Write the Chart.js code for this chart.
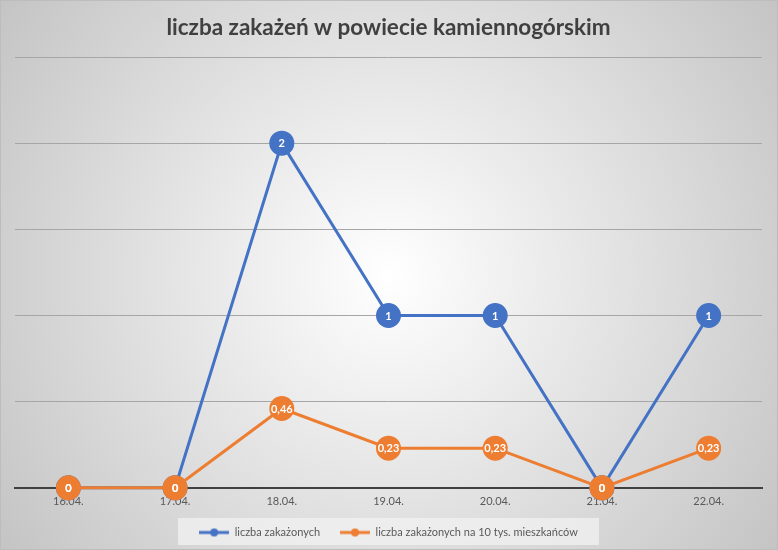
<!DOCTYPE html>
<html><head><meta charset="utf-8">
<script src="https://cdn.jsdelivr.net/npm/chart.js@4.4.1/dist/chart.umd.min.js"></script>
<style>html,body{margin:0;padding:0;background:#fff}#wrap{width:778px;height:550px;position:relative}</style>
</head><body><div id="wrap"><canvas id="c" width="778" height="550"></canvas></div>
<script>
const categories = ['16.04.','17.04.','18.04.','19.04.','20.04.','21.04.','22.04.'];
const cases = [0, 0, 2, 1, 1, 0, 1];
const casesPer10k = [0, 0, 0.46, 0.23, 0.23, 0, 0.23];
const caseLabels = ['0','0','2','1','1','0','1'];
const per10kLabels = ['0','0','0,46','0,23','0,23','0','0,23'];
const seriesNames = ['liczba zakażonych', 'liczba zakażonych na 10 tys. mieszkańców'];
const titleText = 'liczba zakażeń w powiecie kamiennogórskim';

const BLUE = '#4472C4', ORANGE = '#ED7D31';
const FONT = 'Lato, "Open Sans", sans-serif';

function legendIcon(color){
  const c = document.createElement('canvas');
  c.width = 30; c.height = 10;
  const x = c.getContext('2d');
  x.strokeStyle = color; x.lineWidth = 3;
  x.beginPath(); x.moveTo(0,5); x.lineTo(30,5); x.stroke();
  x.fillStyle = color; x.beginPath(); x.arc(15,5,4,0,Math.PI*2); x.fill();
  return c;
}

const bgPlugin = {
  id: 'bg',
  beforeDraw(chart){
    const {ctx, width, height} = chart;
    ctx.save();
    const g = ctx.createRadialGradient(width/2, height/2, 0, width/2, height/2, Math.sqrt(width*width+height*height)/2);
    g.addColorStop(0, '#ffffff');
    g.addColorStop(1, '#c4c4c4');
    ctx.fillStyle = g;
    ctx.fillRect(0,0,width,height);
    ctx.strokeStyle = '#bdbdbd'; ctx.lineWidth = 1;
    ctx.strokeRect(0.5,0.5,width-1,height-1);
    const L = chart.legend;
    if (L && L.legendHitBoxes && L.legendHitBoxes.length){
      ctx.fillStyle = 'rgba(242,242,242,0.75)';
      ctx.fillRect(178, 518, 421, 27);
    }
    ctx.restore();
  }
};

const labelPlugin = {
  id: 'dl',
  afterDatasetsDraw(chart){
    const ctx = chart.ctx;
    const lbls = [caseLabels, per10kLabels];
    ctx.save();
    ctx.fillStyle = '#ffffff';
    ctx.font = 'bold 11px ' + FONT;
    ctx.textAlign = 'center'; ctx.textBaseline = 'middle';
    chart.data.datasets.forEach((ds, i) => {
      const meta = chart.getDatasetMeta(i);
      meta.data.forEach((pt, j) => {
        ctx.fillText(lbls[i][j], pt.x, pt.y + 0.5);
      });
    });
    ctx.restore();
  }
};

new Chart(document.getElementById('c'), {
  type: 'line',
  data: {
    labels: categories,
    datasets: [
      {label: seriesNames[0], data: cases, borderColor: BLUE, backgroundColor: BLUE, borderWidth: 3,
       pointRadius: 11, pointHoverRadius: 11, pointBackgroundColor: BLUE, pointBorderColor: BLUE, tension: 0,
       pointStyle: 'circle', clip: false, order: 1},
      {label: seriesNames[1], data: casesPer10k, borderColor: ORANGE, backgroundColor: ORANGE, borderWidth: 3,
       pointRadius: 11, pointHoverRadius: 11, pointBackgroundColor: ORANGE, pointBorderColor: ORANGE, tension: 0,
       pointStyle: 'circle', clip: false, order: 0}
    ]
  },
  options: {
    responsive: false,
    animation: false,
    layout: {padding: {left: 15, right: 16, top: 0, bottom: 2}},
    plugins: {
      title: {display: true, text: titleText, color: '#404040',
        font: {family: FONT, size: 22.5, weight: 'bold'}, padding: {top: 14, bottom: 16}},
      legend: {
        position: 'bottom',
        labels: {
          color: '#595959', font: {family: FONT, size: 11},
          usePointStyle: true, pointStyleWidth: 30, boxHeight: 10, padding: 20,
          generateLabels(chart){
            return chart.data.datasets.map((ds, i) => ({
              text: ds.label, pointStyle: legendIcon(ds.borderColor),
              fillStyle: ds.borderColor, strokeStyle: ds.borderColor, lineWidth: 0,
              hidden: false, datasetIndex: i, fontColor: '#595959'
            }));
          }
        }
      },
      tooltip: {enabled: false}
    },
    scales: {
      x: {
        offset: true,
        grid: {display: false, drawTicks: false},
        border: {display: true, color: '#404040', width: 2},
        ticks: {color: '#595959', font: {family: FONT, size: 11}, padding: 7},
        afterFit(scale){ scale.height -= 8; }
      },
      y: {
        min: 0, max: 2.5,
        ticks: {display: false, stepSize: 0.5},
        grid: {color: '#a6a6a6', lineWidth: 1, drawTicks: false},
        border: {display: false}
      }
    }
  },
  plugins: [bgPlugin, labelPlugin]
});
</script></body></html>
